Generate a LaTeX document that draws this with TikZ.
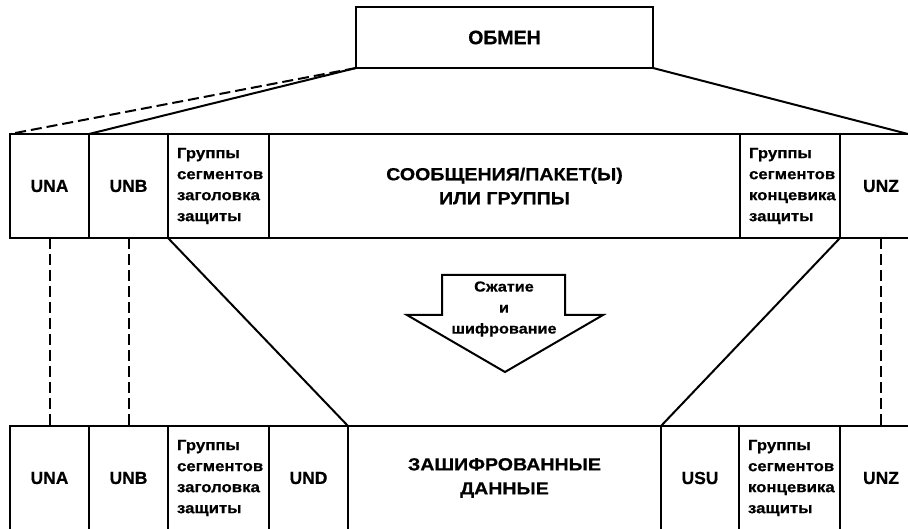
\documentclass[tikz,border=0pt]{standalone}
\usepackage{fontspec}
\setmainfont{Liberation Sans}[BoldFeatures={FakeBold=0.6}]
\newfontfamily\widefont{Liberation Sans}[FakeStretch=1.12, BoldFeatures={FakeBold=0.6}]
\usepackage{tikz}

\begin{document}
\begin{tikzpicture}[x=1pt, y=-1pt,
  cell/.style={draw, line width=2.6pt, anchor=north west, inner sep=0pt, outer sep=0pt,
    minimum height=104pt, align=center, font=\fontsize{17.5}{24}\selectfont\bfseries},
  grp/.style={cell, align=left, text width=83pt, inner xsep=9pt,
    font=\widefont\fontsize{15}{21}\selectfont\bfseries},
  wide/.style={font=\widefont\fontsize{17.5}{24}\selectfont\bfseries},
  link/.style={line width=2pt},
  trace/.style={line width=2pt, dash pattern=on 11pt off 5pt}]
  \useasboundingbox (0,0) rectangle (908,529);
  \clip (0,0) rectangle (908,529);

  \node[cell, minimum width=297pt, minimum height=61pt,
    font=\fontsize{19.5}{23}\selectfont\bfseries] (exch) at (356,7) {ОБМЕН};

  % upper row
  \node[cell, minimum width=79pt] (unaT) at (10,134) {UNA};
  \node[cell, minimum width=79pt] (unbT) at (89,134) {UNB};
  \node[grp] (hdrT) at (168,134) {Группы\\сегментов\\заголовка\\защиты};
  \node[cell, wide, minimum width=471pt] (msgT) at (269,134) {СООБЩЕНИЯ/ПАКЕТ(Ы)\\ИЛИ ГРУППЫ};
  \node[grp, text width=82pt] (trlT) at (740,134) {Группы\\сегментов\\концевика\\защиты};
  \node[cell, minimum width=82pt] (unzT) at (840,134) {UNZ};
  \coordinate (rimR) at (908,134);

  % lower row
  \node[cell, minimum width=79pt] (unaB) at (10,426) {UNA};
  \node[cell, minimum width=79pt] (unbB) at (89,426) {UNB};
  \node[grp] (hdrB) at (168,426) {Группы\\сегментов\\заголовка\\защиты};
  \node[cell, minimum width=79pt] (undB) at (269,426) {UND};
  \node[cell, wide, minimum width=313pt] (dataB) at (348,426) {ЗАШИФРОВАННЫЕ\\ДАННЫЕ};
  \node[cell, minimum width=78pt] (usuB) at (661,426) {USU};
  \node[grp] (trlB) at (739,426) {Группы\\сегментов\\концевика\\защиты};
  \node[cell, minimum width=82pt] (unzB) at (840,426) {UNZ};

  \draw[trace] (exch.south west) -- (unaT.north west);
  \draw[link] (exch.south west) -- (unbT.north west);
  \draw[link] (exch.south east) -- (rimR);

  \draw[trace] (unaT.south) -- (unaB.north);
  \draw[trace] (unbT.south) -- (unbB.north);
  \draw[trace] (unzT.south) -- (unzB.north);
  \draw[link] (hdrT.south west) -- (dataB.north west);
  \draw[link] (trlT.south east) -- (dataB.north east);

  % compression arrow
  \draw[link] (442,275) -- (565,275) -- (565,315) -- (603,315) -- (505,372)
    -- (407,315) -- (442,315) -- cycle;
  \node[align=center, font=\widefont\fontsize{14.5}{21}\selectfont\bfseries] (squeeze)
    at (504,309) {Сжатие\\и\\шифрование};
\end{tikzpicture}
\end{document}
